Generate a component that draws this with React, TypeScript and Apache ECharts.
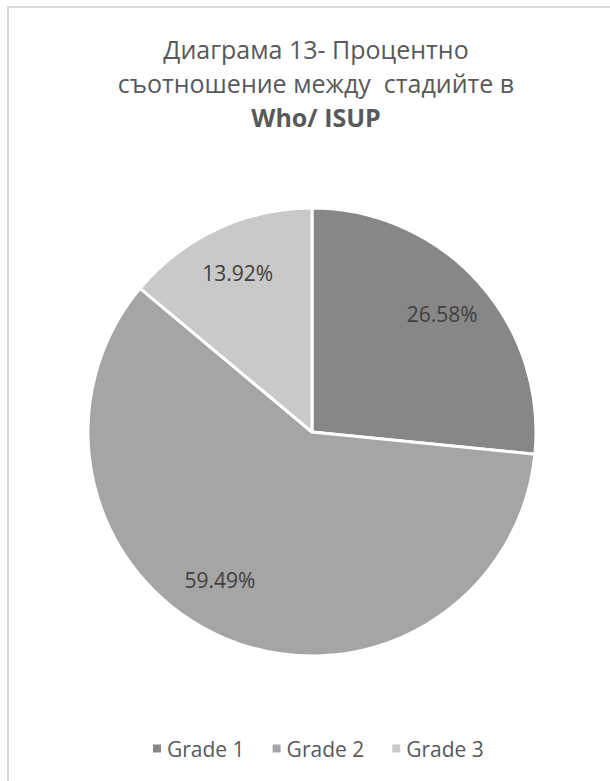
import React, { useEffect, useRef } from "react";
import * as echarts from "echarts";

const categories = ["Grade 1", "Grade 2", "Grade 3"];
const percents = [26.58, 59.49, 13.92];
const colors = ["#878787", "#a5a5a5", "#c9c9c9"];
const titleLines = ["Диаграма 13- Процентно", "съотношение между  стадийте в", "Who/ ISUP"];

const FONT = "'Open Sans', 'Noto Sans', sans-serif";

export default function App() {
  const ref = useRef<HTMLDivElement>(null);
  useEffect(() => {
    if (!ref.current) return;
    const chart = echarts.init(ref.current, null, { renderer: "svg" });
    const data = categories.map((name, i) => ({
      name,
      value: percents[i],
      itemStyle: { color: colors[i] },
    }));
    const center = [312, 432];
    const R = 224;
    chart.setOption({
      animation: false,
      backgroundColor: "#ffffff",
      title: {
        text: `{n|${titleLines[0]}}\n{n|${titleLines[1]}}\n{b|${titleLines[2]}}`,
        left: 311,
        textAlign: "center",
        top: 27,
        textStyle: {
          fontWeight: "normal",
          rich: {
            n: { fontFamily: FONT, fontSize: 25, lineHeight: 34, color: "#595959", fontWeight: "normal" },
            b: { fontFamily: FONT, fontSize: 25, lineHeight: 34, color: "#595959", fontWeight: "bold" },
          },
        },
      },
      legend: {
        data: categories,
        left: 146,
        top: 733,
        icon: "rect",
        itemWidth: 10,
        itemHeight: 10,
        itemGap: 26,
        textStyle: { fontFamily: FONT, fontSize: 21, color: "#595959" },
      },
      graphic: [
        {
          type: "rect",
          shape: { x: 8, y: 7, width: 700, height: 900 },
          style: { fill: "none", stroke: "#d9d9d9", lineWidth: 2 },
          silent: true,
        },
      ],
      series: [
        {
          type: "pie",
          center,
          radius: [0, R],
          startAngle: 90,
          clockwise: true,
          data,
          label: { show: false },
          labelLine: { show: false },
          itemStyle: { borderColor: "#ffffff", borderWidth: 3 },
          emphasis: { disabled: true },
        },
        {
          type: "pie",
          center,
          radius: [121, R],
          startAngle: 90,
          clockwise: true,
          silent: true,
          data: categories.map((name, i) => ({
            name,
            value: percents[i],
            itemStyle: { color: "rgba(0,0,0,0)" },
            label: i === 1 ? { offset: [-24, -14] } : undefined,
          })),
          itemStyle: { borderWidth: 0 },
          label: {
            show: true,
            position: "inside",
            formatter: (p: any) => `${p.value.toFixed(2)}%`,
            fontFamily: FONT,
            fontSize: 21,
            color: "#404040",
          },
          labelLine: { show: false },
          emphasis: { disabled: true },
        },
      ],
    });
    return () => chart.dispose();
  }, []);
  return (
    <div
      ref={ref}
      style={{ position: "fixed", left: 0, top: 0, width: 610, height: 781 }}
    />
  );
}
